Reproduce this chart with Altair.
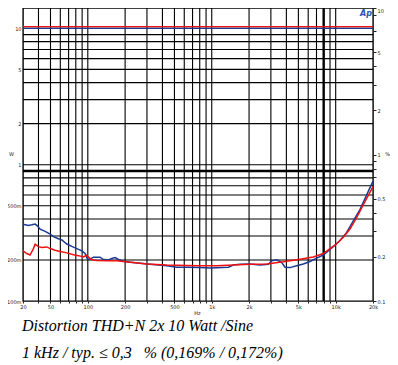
import altair as alt
import pandas as pd

# ---------------- data ----------------
freq_grid = [40, 50, 60, 70, 80, 90, 100, 200, 300, 400, 500, 600, 700, 800, 900,
             1000, 2000, 3000, 4000, 5000, 6000, 7000, 8000, 9000, 10000]
watt_grid = [0.2, 0.3, 0.4, 0.5, 0.6, 0.7, 0.8, 0.9, 1, 2, 3, 4, 5, 6, 7, 8, 9, 10]

x_tick_values = [30] + freq_grid + [20000]
x_major = [30, 50, 100, 200, 500, 1000, 2000, 5000, 10000, 20000]
x_major_labels = ["20", "50", "100", "200", "500", "1k", "2k", "5k", "10k", "20k"]

w_ticks = [0.1, 0.2, 0.5, 1, 2, 5, 10]
w_labels = ["100m", "200m", "500m", "1", "2", "5", "10"]

pct_ticks = [0.1, 0.2, 0.3, 0.4, 0.5, 0.7, 0.8, 0.9, 1, 2, 3, 4, 5, 7, 9, 10]
pct_major = [0.1, 0.2, 0.5, 1, 2, 5, 10]
pct_labels = ["0.1", "0.2", "0.5", "1", "2", "5", "10"]

# output power (W)
power_f = [30, 20000]
power_blue = [10.0, 10.0]
power_red = [10.3, 10.3]

# THD+N (%)
blue_f = [30, 33.2, 35.3, 37.6, 39.2, 41.2, 45.3, 49.7, 52.8, 57.9, 61.7, 67.7, 74.3,
          81.5, 89.5, 95.1, 98.2, 101, 104.4, 111, 121.7, 125.6, 133.6, 142.3, 146.6,
          156.2, 166.1, 176.6, 193.7, 219.5, 264, 318, 434, 522, 629, 795, 969, 1361,
          1493, 1691, 2036, 2453, 2860, 3047, 3343, 3670, 3902, 4278, 4846, 5478, 6206,
          7025, 7948, 8995, 9867, 10833, 12270, 13870, 15700, 17780, 20000]
blue_pct = [0.334, 0.328, 0.331, 0.335, 0.326, 0.309, 0.299, 0.286, 0.275, 0.266, 0.261,
            0.245, 0.236, 0.228, 0.220, 0.211, 0.197, 0.191, 0.193, 0.199, 0.199, 0.199,
            0.192, 0.191, 0.191, 0.195, 0.198, 0.192, 0.187, 0.184, 0.181, 0.178, 0.174,
            0.170, 0.170, 0.169, 0.168, 0.170, 0.176, 0.178, 0.179, 0.176, 0.178, 0.188,
            0.191, 0.183, 0.170, 0.169, 0.174, 0.179, 0.186, 0.196, 0.206, 0.225, 0.240,
            0.259, 0.294, 0.352, 0.421, 0.530, 0.658]

red_f = [30, 32.2, 34.2, 36.4, 37.6, 40, 42.6, 46.7, 49.7, 54.5, 59.8, 67.7, 76.6, 84,
         92.2, 98.2, 101, 107.7, 118.2, 142.3, 171.5, 193.7, 233.3, 299, 434, 629, 795,
         1097, 1493, 2036, 2778, 3779, 5153, 6597, 7948, 9284, 10190, 11514, 13040,
         14760, 16710, 20000]
red_pct = [0.220, 0.211, 0.206, 0.228, 0.244, 0.235, 0.232, 0.234, 0.228, 0.222, 0.218,
           0.213, 0.207, 0.204, 0.200, 0.206, 0.199, 0.191, 0.189, 0.188, 0.188, 0.186,
           0.183, 0.179, 0.176, 0.175, 0.174, 0.174, 0.176, 0.178, 0.179, 0.185, 0.193,
           0.200, 0.211, 0.232, 0.246, 0.272, 0.310, 0.370, 0.455, 0.603]

caption_lines = ["Distortion THD+N 2x 10 Watt /Sine",
                 "1 kHz / typ. \u2264 0,3 \u00a0\u00a0% (0,169% / 0,172%)"]
logo_text = ["Ap"]

BLUE = "#1b3a94"
RED = "#f01010"


def label_expr(values, labels):
    expr = "''"
    for v, l in reversed(list(zip(values, labels))):
        expr = f"datum.value == {v} ? '{l}' : ({expr})"
    return expr


# ---------------- scales / axes ----------------
xs = alt.Scale(type="log", domain=[30, 20000], nice=False)
ws = alt.Scale(type="log", domain=[0.1, 14.11], nice=False)
ps = alt.Scale(type="log", domain=[0.1, 10], nice=False)

axis_common = dict(grid=False, domain=False, labelFont="DejaVu Sans", labelFontSize=5,
                   labelColor="#222", titleFont="DejaVu Sans", titleFontSize=5,
                   titleFontWeight="normal", titleColor="#222", tickColor="#222")

x_axis = alt.Axis(values=x_tick_values, labelExpr=label_expr(x_major, x_major_labels),
                  tickSize=2, labelPadding=1, title="Hz", titleX=174, titleY=11,
                  titleBaseline="middle", labelFlush=False, labelOverlap=False,
                  **axis_common)
w_axis = alt.Axis(orient="left", values=w_ticks, labelExpr=label_expr(w_ticks, w_labels),
                  tickSize=0, labelPadding=2, title="W", titleAngle=0, titleX=-12,
                  titleY=145, titleAlign="center", titleBaseline="middle",
                  labelOverlap=False, labelFlush=False, **axis_common)
p_axis = alt.Axis(orient="right", values=pct_ticks,
                  labelExpr=label_expr(pct_major, pct_labels),
                  labelBaseline=alt.condition("datum.value >= 10", alt.value("top"),
                                              alt.value("middle")),
                  tickSize=3, labelPadding=1, title="%", titleAngle=0, titleX=14,
                  titleY=145, titleAlign="center", titleBaseline="middle",
                  labelOverlap=False, labelFlush=False, **axis_common)

# ---------------- layers ----------------
vgrid = alt.Chart(pd.DataFrame({"f": freq_grid})).mark_rule(color="black").encode(
    x=alt.X("f:Q", scale=xs, axis=x_axis),
    strokeWidth=alt.condition("datum.f == 8000", alt.value(2.4), alt.value(1.1)),
)
hgrid = alt.Chart(pd.DataFrame({"w": watt_grid})).mark_rule(color="black").encode(
    y=alt.Y("w:Q", scale=ws, axis=w_axis),
    strokeWidth=alt.condition("datum.w == 0.9", alt.value(2.4), alt.value(1.1)),
)
pw_blue = alt.Chart(pd.DataFrame({"f": power_f, "w": power_blue})).mark_line(
    color=BLUE, strokeWidth=1.4).encode(
    x=alt.X("f:Q", scale=xs, axis=x_axis), y=alt.Y("w:Q", scale=ws, axis=w_axis))
pw_red = alt.Chart(pd.DataFrame({"f": power_f, "w": power_red})).mark_line(
    color=RED, strokeWidth=1.4).encode(
    x=alt.X("f:Q", scale=xs, axis=x_axis), y=alt.Y("w:Q", scale=ws, axis=w_axis))

left = alt.layer(vgrid, hgrid, pw_blue, pw_red)

thd_blue = alt.Chart(pd.DataFrame({"f": blue_f, "p": blue_pct})).mark_line(
    color=BLUE, strokeWidth=1.5).encode(
    x=alt.X("f:Q", scale=xs, axis=x_axis), y=alt.Y("p:Q", scale=ps, axis=p_axis))
thd_red = alt.Chart(pd.DataFrame({"f": red_f, "p": red_pct})).mark_line(
    color=RED, strokeWidth=1.5).encode(
    x=alt.X("f:Q", scale=xs, axis=x_axis), y=alt.Y("p:Q", scale=ps, axis=p_axis))

right = alt.layer(thd_blue, thd_red)

cap_style = dict(align="left", baseline="alphabetic", font="Liberation Serif",
                 fontStyle="italic", fontSize=16, color="black")
cap1 = alt.Chart(pd.DataFrame({"t": [caption_lines[0]]})).mark_text(**cap_style).encode(
    x=alt.value(-1), y=alt.value(323), text="t:N")
cap2 = alt.Chart(pd.DataFrame({"t": [caption_lines[1]]})).mark_text(**cap_style).encode(
    x=alt.value(-1), y=alt.value(350), text="t:N")
logo = alt.Chart(pd.DataFrame({"t": logo_text})).mark_text(
    align="center", baseline="middle", font="DejaVu Sans", fontStyle="italic",
    fontWeight="bold", fontSize=8, color="#2a52b0").encode(
    x=alt.value(343), y=alt.value(6), text="t:N")

chart = alt.layer(left, right, cap1, cap2, logo).resolve_scale(y="independent").properties(
    width=350, height=293,
    autosize=alt.AutoSizeParams(type="none"),
    padding={"left": 15, "top": 0, "right": 17, "bottom": 64},
).configure_view(stroke="black", strokeWidth=1.4)

chart.save("out.html", embed_options={"renderer": "svg", "actions": False})
